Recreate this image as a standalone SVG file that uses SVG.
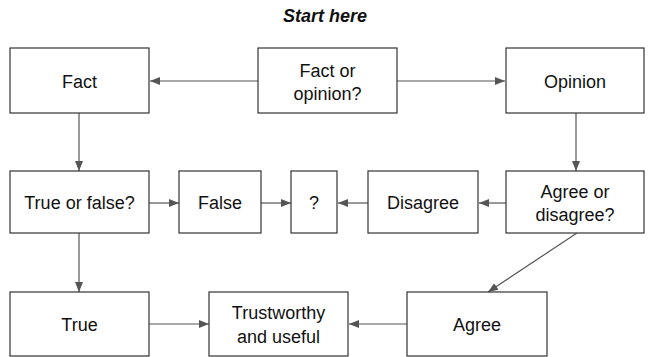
<svg xmlns="http://www.w3.org/2000/svg" width="649" height="357" viewBox="0 0 649 357">
<style>
.box{fill:#fff;stroke:#333;stroke-width:1.2}
.t{font-family:"Liberation Sans",Arial,sans-serif;font-size:18px;fill:#111;text-anchor:middle}
.c{stroke:#555;stroke-width:1.2;fill:none;marker-end:url(#ah)}
</style>
<defs>
<marker id="ah" viewBox="0 0 10 10" refX="10" refY="5" markerWidth="10" markerHeight="10" markerUnits="userSpaceOnUse" orient="auto">
<path d="M0,1 L10,5 L0,9 Z" fill="#555"/>
</marker>
</defs>
<rect width="649" height="357" fill="#fff"/>
<text x="325" y="22" class="t" style="font-weight:bold;font-style:italic">Start here</text>
<g id="connectors">
<line class="c" x1="258" y1="81" x2="150" y2="81"/>
<line class="c" x1="397" y1="81" x2="505" y2="81"/>
<line class="c" x1="79" y1="113" x2="79" y2="171"/>
<line class="c" x1="576" y1="113" x2="576" y2="171"/>
<line class="c" x1="149" y1="203" x2="179" y2="203"/>
<line class="c" x1="261" y1="203" x2="291" y2="203"/>
<line class="c" x1="368" y1="203" x2="338" y2="203"/>
<line class="c" x1="506" y1="203" x2="479" y2="203"/>
<line class="c" x1="79" y1="233" x2="79" y2="292"/>
<line class="c" x1="149" y1="324" x2="209" y2="324"/>
<line class="c" x1="407" y1="324" x2="349" y2="324"/>
<line class="c" x1="577" y1="233" x2="488" y2="292"/>
</g>
<g id="fact"><rect class="box" x="10" y="48" width="139" height="65"/><text class="t" x="79.5" y="88">Fact</text></g>
<g id="factopinion"><rect class="box" x="258" y="48" width="139" height="65"/><text class="t" x="327.5" y="76.5">Fact or</text><text class="t" x="327.5" y="99.5">opinion?</text></g>
<g id="opinion"><rect class="box" x="506" y="48" width="138" height="65"/><text class="t" x="575" y="88">Opinion</text></g>
<g id="trueorfalse"><rect class="box" x="10" y="171" width="139" height="62"/><text class="t" x="79.5" y="209">True or false?</text></g>
<g id="false"><rect class="box" x="179" y="171" width="82" height="62"/><text class="t" x="220" y="209">False</text></g>
<g id="q"><rect class="box" x="291" y="171" width="46" height="62"/><text class="t" x="314" y="209">?</text></g>
<g id="disagree"><rect class="box" x="368" y="171" width="110" height="62"/><text class="t" x="423" y="209">Disagree</text></g>
<g id="agreeordisagree"><rect class="box" x="506" y="171" width="138" height="62"/><text class="t" x="575" y="198">Agree or</text><text class="t" x="575" y="220.5">disagree?</text></g>
<g id="true"><rect class="box" x="10" y="292" width="139" height="64"/><text class="t" x="79.5" y="330.5">True</text></g>
<g id="trustworthy"><rect class="box" x="209" y="292" width="139" height="64"/><text class="t" x="278.5" y="319">Trustworthy</text><text class="t" x="278.5" y="342.5">and useful</text></g>
<g id="agree"><rect class="box" x="407" y="292" width="140" height="64"/><text class="t" x="477" y="330.5">Agree</text></g>
</svg>
